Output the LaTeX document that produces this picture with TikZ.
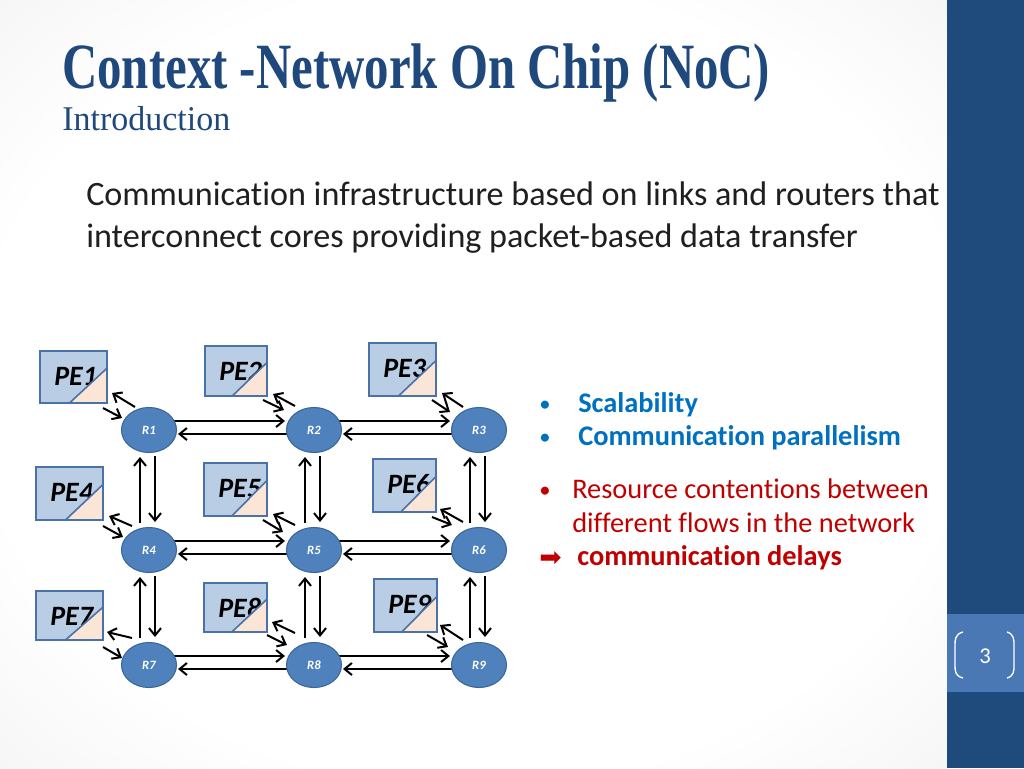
\documentclass[tikz,border=0pt]{standalone}
\usepackage{fontspec}
\setmainfont{Carlito}[Ligatures=NoCommon]
\newfontfamily\titlefont{Liberation Serif}
\newfontfamily\symfont{DejaVu Sans}
\usetikzlibrary{arrows.meta,calc,shapes.geometric}
\pgfdeclarelayer{back}
\pgfdeclarelayer{links}
\pgfsetlayers{back,links,main}
\definecolor{titleblue}{HTML}{1F497D}
\definecolor{barblue}{HTML}{1F4A7C}
\definecolor{boxblue}{HTML}{4A78B4}
\definecolor{routerfill}{HTML}{4F81BD}
\definecolor{routerdraw}{HTML}{3A6699}
\definecolor{pefill}{HTML}{B9CDE5}
\definecolor{pedraw}{HTML}{4A72A6}
\definecolor{peach}{HTML}{FBE5D6}
\definecolor{bulletblue}{HTML}{0070C0}
\definecolor{darkred}{HTML}{C00000}
\pgfdeclareradialshading{slidebg}{\pgfpoint{0bp}{0bp}}{color(0bp)=(white); color(26bp)=(white); color(50bp)=(black!9); color(72bp)=(black!16)}
\begin{document}
\begin{tikzpicture}[x=0.75pt,y=-0.75pt,
  router/.style={ellipse, minimum width=41.25pt, minimum height=33.75pt, inner sep=0pt,
    fill=routerfill, draw=routerdraw, line width=0.8pt, text=white,
    font=\bfseries\itshape\fontsize{9.5}{9.5}\selectfont},
  pe/.style={rectangle, fill=pefill, inner sep=0pt, outer sep=0pt},
  pelabel/.style={anchor=base west, inner sep=0pt, font=\bfseries\itshape\fontsize{21}{21}\selectfont},
  arr/.style={draw=black, line width=1.5pt, -{Straight Barb[length=5.5pt,width=9pt]}},
  body/.style={anchor=base west, inner sep=0pt, text=black!88, font=\fontsize{25.6}{30}\selectfont},
  blt/.style={anchor=base west, inner sep=0pt, font=\fontsize{21.3}{25}\selectfont},
  dot/.style={anchor=base west, inner sep=0pt, font=\fontsize{17}{20}\selectfont}]
\useasboundingbox (0,0) rectangle (1024,768);
\begin{pgfonlayer}{back}
  \shade[shading=slidebg] (0,0) rectangle (947,768);
  \fill[barblue] (947,0) rectangle (1024,768);
  \fill[boxblue] (947,614) rectangle (1024,692);
\end{pgfonlayer}
% page number
\draw[white, line width=1pt] (963,632) .. controls (955,634) and (955,640) .. (955,645) -- (955,665) .. controls (955,671) and (955,676) .. (963,678);
\draw[white, line width=1pt] (1007,632) .. controls (1014,634) and (1014,640) .. (1014,645) -- (1014,665) .. controls (1014,671) and (1014,676) .. (1007,678);
\node[text=white, inner sep=0pt, font=\fontsize{17}{17}\selectfont] (page) at (985,656) {3};
% title
\node[anchor=base west, inner sep=0pt, text=titleblue] (title) at (62,88)
  {\resizebox{531pt}{1.1\height}{\titlefont\bfseries\fontsize{44}{44}\selectfont Context -Network On Chip (NoC)}};
\node[anchor=base west, inner sep=0pt, text=titleblue] (subtitle) at (62,130)
  {\resizebox{126pt}{\height}{\titlefont\fontsize{26}{26}\selectfont Introduction}};
% body
\node[body] (body1) at (86,205) {Communication infrastructure based on links and routers that};
\node[body] (body2) at (86,247) {interconnect cores providing packet-based data transfer};
% bullets
\node[dot, text=bulletblue] (b1) at (539,411) {•};
\node[blt, text=bulletblue, font=\bfseries\fontsize{21.3}{25}\selectfont] (t1) at (578,412) {Scalability};
\node[dot, text=bulletblue] (b2) at (539,444) {•};
\node[blt, text=bulletblue, font=\bfseries\fontsize{21.3}{25}\selectfont] (t2) at (578,445) {Communication parallelism};
\node[dot, text=darkred] (b3) at (539,497) {•};
\node[blt, text=darkred] (t3) at (572,498) {Resource contentions between};
\node[blt, text=darkred] (t4) at (572,532) {different flows in the network};
\node[blt, text=darkred, font=\symfont\fontsize{20}{22}\selectfont] (arrowsym) at (539,566) {➡};
\node[blt, text=darkred, font=\bfseries\fontsize{21.3}{25}\selectfont] (t5) at (577,565) {communication delays};
% routers
\node[router] (R1) at (149,430) {R1};
\node[router] (R2) at (314,430) {R2};
\node[router] (R3) at (479,430) {R3};
\node[router] (R4) at (149,550) {R4};
\node[router] (R5) at (314,550) {R5};
\node[router] (R6) at (479,550) {R6};
\node[router] (R7) at (149,665) {R7};
\node[router] (R8) at (314,665) {R8};
\node[router] (R9) at (479,665) {R9};
% processing elements
\foreach \n/\cx/\cy/\w/\h in {1/73.5/377/67/52, 2/236/371/62/50, 3/402.5/369.5/67/53,
  4/69.5/493.5/67/53, 5/235.5/489.5/63/53, 6/404.5/485.5/63/53,
  7/69.5/615.5/67/49, 8/235.5/607.5/63/49, 9/405.5/605.5/63/53}{
  \node[pe, minimum width=\w*0.75pt, minimum height=\h*0.75pt] (PE\n) at (\cx,\cy) {};
  \node[pelabel] (L\n) at ([shift={(14,34)}]PE\n.north west) {PE\n};
  \fill[peach] ($(PE\n.south west)!0.44!(PE\n.south east)$) -- ($(PE\n.south east)!0.67!(PE\n.north east)$) -- (PE\n.south east) -- cycle;
  \draw[pedraw, line width=1.2pt] ($(PE\n.south west)!0.44!(PE\n.south east)$) -- ($(PE\n.south east)!0.67!(PE\n.north east)$);
  \draw[pedraw, line width=1.2pt] (PE\n.north west) rectangle (PE\n.south east);
}
\begin{pgfonlayer}{links}
% horizontal links
\foreach \a/\b in {1/2, 2/3, 4/5, 5/6, 7/8, 8/9}{
  \draw[arr] ([shift={(20,-9)}]R\a.center) -- ([shift={(-29,-9)}]R\b.center);
  \draw[arr] ([shift={(-20,4)}]R\b.center) -- ([shift={(29,4)}]R\a.center);
}
% vertical links
\foreach \a/\b in {1/4, 2/5, 3/6, 4/7, 5/8, 6/9}{
  \draw[arr] ([shift={(-9,-27)}]R\b.center) -- ([shift={(-9,27)}]R\a.center);
  \draw[arr] ([shift={(6,26)}]R\a.center) -- ([shift={(6,-28)}]R\b.center);
}
% PE <-> router links
\foreach \n/\bsx/\bsy/\bex/\bey/\fsx/\fsy/\fex/\fey in {
  1/-14/-23/5/-10/-4/5/-27/-12,
  2/-19/-24/6/-2/-4/4/-30/-20,
  3/-16/-23/6/-3/-4/4/-29/-18,
  4/-17/-24/6/-4/0/6/-26/-13,
  5/-19/-25/6/-2/-4/4/-31/-18,
  6/-16/-28/4/-3/-4/5/-27/-25,
  7/-17/-27/4/-8/0/7/-27/-7,
  8/-19/-32/5/-10/0/3/-27/-20,
  9/-16/-25/3/-7/-10/3/-31/-18}{
  \draw[arr] ([shift={(\bsx,\bsy)}]R\n.center) -- ([shift={(\bex,\bey)}]PE\n.south east);
  \draw[arr] ([shift={(\fsx,\fsy)}]PE\n.south east) -- ([shift={(\fex,\fey)}]R\n.center);
}
\end{pgfonlayer}
\end{tikzpicture}
\end{document}
